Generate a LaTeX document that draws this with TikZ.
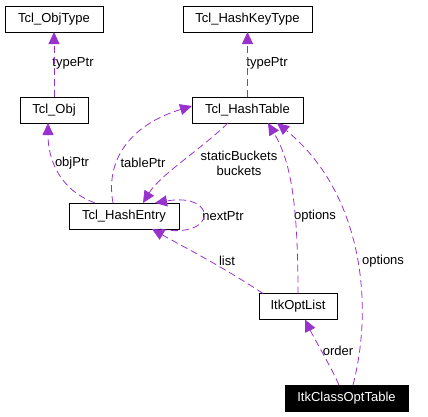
\documentclass[tikz,border=0pt]{standalone}
\usepackage{fontspec}
\setmainfont{Liberation Sans}
\usetikzlibrary{arrows.meta}
\definecolor{edgepurple}{RGB}{153,50,204}
\begin{document}
\begin{tikzpicture}[x=1pt,y=-1pt,
	box/.style={draw,line width=0.8pt,inner sep=0,outer sep=0,minimum height=26,font=\fontsize{13}{15}\selectfont},
	rel/.style={draw=edgepurple,line width=0.8pt,dash pattern=on 7pt off 4pt,-{Triangle[length=12pt,width=11pt,fill=edgepurple]}},
	lbl/.style={inner sep=0,font=\fontsize{13}{15}\selectfont,align=center}]
	\useasboundingbox (0,0) rectangle (428,416);
	\node[box,minimum width=98] (objtype) at (54,19) {Tcl\_ObjType};
	\node[box,minimum width=129] (keytype) at (247.5,19) {Tcl\_HashKeyType};
	\node[box,minimum width=68] (obj) at (54,110) {Tcl\_Obj};
	\node[box,minimum width=111] (table) at (247.5,110) {Tcl\_HashTable};
	\node[box,minimum width=110] (entry) at (124,216) {Tcl\_HashEntry};
	\node[box,minimum width=78] (optlist) at (298,306.5) {ItkOptList};
	\node[box,minimum width=123,fill=black,text=white] (classopt) at (346.5,398) {ItkClassOptTable};
	\node[lbl] (l1) at (73,63) {typePtr};
	\node[lbl] (l2) at (267,63) {typePtr};
	\node[lbl] (l3) at (72,163) {objPtr};
	\node[lbl] (l4) at (143,163) {tablePtr};
	\node[lbl] (l5) at (239,163) {staticBuckets\\buckets};
	\node[lbl] (l6) at (223,216) {nextPtr};
	\node[lbl] (l7) at (227,261) {list};
	\node[lbl] (l8) at (315,216) {options};
	\node[lbl] (l9) at (383,261) {options};
	\node[lbl] (l10) at (338,351) {order};
	\draw[rel] (obj.north) -- (objtype.south);
	\draw[rel] (table.north) -- (table.north |- keytype.south);
	\draw[rel] ([xshift=26]entry.north west) .. controls (60,190) and (48,160) .. ([xshift=-6]obj.south);
	\draw[rel] ([xshift=44]entry.north west) .. controls (105,160) and (130,125) .. ([yshift=4]table.west);
	\draw[rel] ([xshift=-19.5]table.south) .. controls (200,150) and (160,175) .. ([xshift=19]entry.north);
	\draw[rel] ([xshift=36]entry.south) .. controls (218,240) and (218,192) .. ([xshift=31]entry.north);
	\draw[rel] ([xshift=4]optlist.north west) .. controls (220,265) and (180,245) .. ([xshift=28]entry.south);
	\draw[rel] (optlist.north) .. controls (298,200) and (290,160) .. ([xshift=20.5]table.south);
	\draw[rel] ([xshift=6.5]classopt.north) .. controls (375,300) and (360,190) .. ([xshift=29.5]table.south);
	\draw[rel] ([xshift=-7.5]classopt.north) .. controls (330,365) and (315,340) .. ([xshift=7]optlist.south);
\end{tikzpicture}
\end{document}
